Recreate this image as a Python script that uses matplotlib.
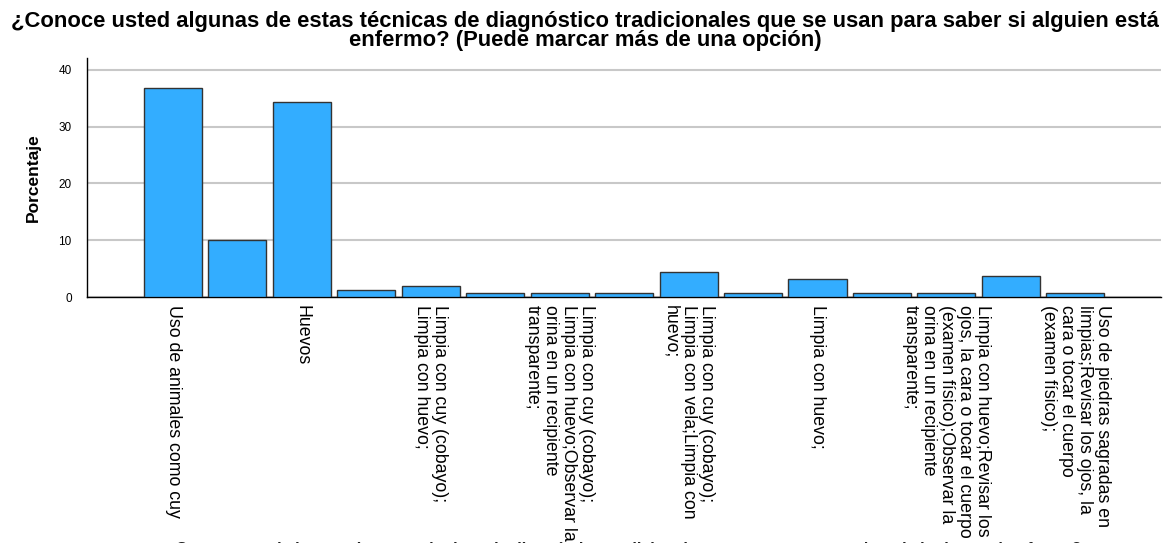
import matplotlib
matplotlib.use("Agg")
import matplotlib.pyplot as plt

categories = [
    "Uso de animales como cuy",
    "",
    "Huevos",
    "",
    "Limpia con cuy (cobayo);\nLimpia con huevo;",
    "",
    "Limpia con cuy (cobayo);\nLimpia con huevo;Observar la\norina en un recipiente\ntransparente;",
    "",
    "Limpia con cuy (cobayo);\nLimpia con vela;Limpia con\nhuevo;",
    "",
    "Limpia con huevo;",
    "",
    "Limpia con huevo;Revisar los\nojos, la cara o tocar el cuerpo\n(examen físico);Observar la\norina en un recipiente\ntransparente;",
    "",
    "Uso de piedras sagradas en\nlimpias;Revisar los ojos, la\ncara o tocar el cuerpo\n(examen físico);",
]
values = [36.875, 10.0, 34.375, 1.25, 1.875, 0.625, 0.625, 0.625,
          4.375, 0.625, 3.125, 0.625, 0.625, 3.75, 0.625]
yticks = [0, 10, 20, 30, 40]

title = ("¿Conoce usted algunas de estas técnicas de diagnóstico tradicionales que se usan para saber si alguien está\n"
         "enfermo? (Puede marcar más de una opción)")
xlabel = "¿Conoce usted algunas de estas técnicas de diagnóstico tradicionales que se usan para saber si alguien está enfermo?"

plt.rcParams['font.family'] = ['Liberation Sans', 'DejaVu Sans']

W, H = 1168, 543
fig = plt.figure(figsize=(W / 100, H / 100), dpi=100)
ax = fig.add_axes([87 / W, 1 - 297 / H, (1161 - 87) / W, (297 - 58) / H])

x = list(range(len(values)))
ax.bar(x, values, width=0.9, color="#33adff", edgecolor="#333333", linewidth=1.0, zorder=3)

ax.set_xlim(-1.335, 15.33)
ax.set_ylim(0, 42.1)
ax.set_yticks(yticks)
ax.set_yticklabels([str(t) for t in yticks], fontsize=8.5)
ax.tick_params(axis='y', length=0, pad=11)
ax.yaxis.grid(True, color="#c8c8c8", linewidth=1.5, zorder=0)
ax.set_axisbelow(True)

ax.set_xticks(x)
ax.set_xticklabels(categories, rotation=270, fontsize=12.8, va='top', ha='center',
                   multialignment='left', linespacing=1.08)
ax.tick_params(axis='x', length=0, pad=6)

for s in ['top', 'right']:
    ax.spines[s].set_visible(False)
ax.spines['left'].set_color('black')
ax.spines['bottom'].set_color('black')
ax.spines['left'].set_linewidth(1.0)
ax.spines['bottom'].set_linewidth(1.0)

ax.set_ylabel("Porcentaje", fontsize=12.5, fontweight='bold', labelpad=13)

fig.text(585 / W, 1 - 11 / H, title, ha='center', va='top', fontsize=15.8,
         fontweight='bold', linespacing=0.88)

fig.text(624 / W, 1 / H, xlabel, ha='center', va='top', fontsize=11.5,
         fontweight='bold', color='#222222')

fig.savefig("out.png", dpi=100)
